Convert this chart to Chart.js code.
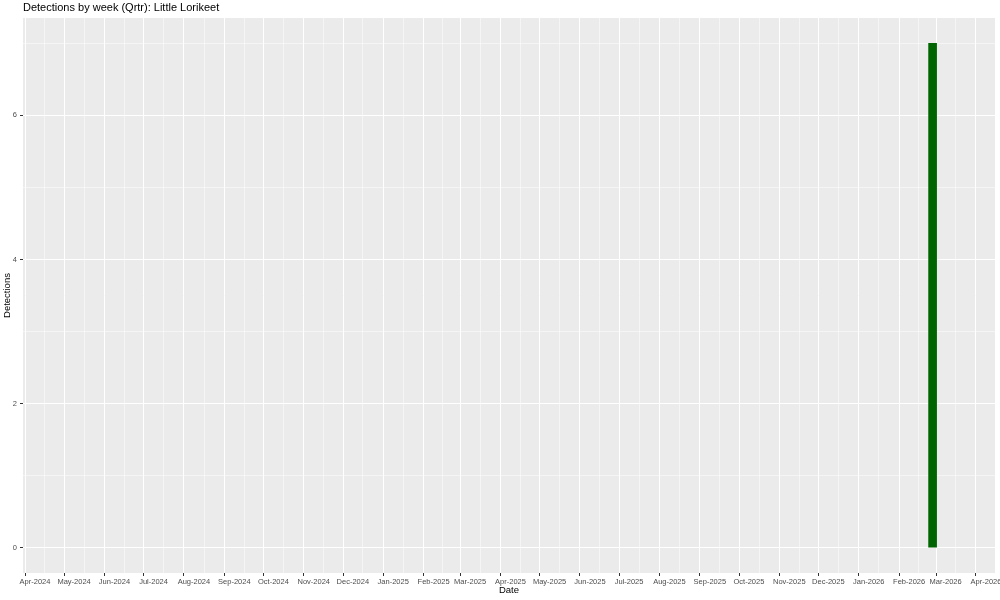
<!DOCTYPE html>
<html>
<head>
<meta charset="utf-8">
<script src="https://cdn.jsdelivr.net/npm/chart.js@4"></script>
<style>
html,body{margin:0;padding:0;background:#fff;}
#wrap{width:1000px;height:600px;position:relative;}
</style>
</head>
<body>
<div id="wrap"><canvas id="c" width="1000" height="600"></canvas></div>
<script>
// ---- data ----
const chartTitle = 'Detections by week (Qrtr): Little Lorikeet';
const weeks = ['2026-02-19'];
const detections = [7];
const monthTicks = ['2024-04-01','2024-05-01','2024-06-01','2024-07-01','2024-08-01','2024-09-01','2024-10-01','2024-11-01','2024-12-01','2025-01-01','2025-02-01','2025-03-01','2025-04-01','2025-05-01','2025-06-01','2025-07-01','2025-08-01','2025-09-01','2025-10-01','2025-11-01','2025-12-01','2026-01-01','2026-02-01','2026-03-01','2026-04-01'];
const monthLabels = ['Apr-2024','May-2024','Jun-2024','Jul-2024','Aug-2024','Sep-2024','Oct-2024','Nov-2024','Dec-2024','Jan-2025','Feb-2025','Mar-2025','Apr-2025','May-2025','Jun-2025','Jul-2025','Aug-2025','Sep-2025','Oct-2025','Nov-2025','Dec-2025','Jan-2026','Feb-2026','Mar-2026','Apr-2026'];
const yTicks = [0,1,2,3,4,5,6,7];
const yLabels = ['0','','2','','4','','6',''];

function toDays(s){const p=s.split('-');return Date.UTC(+p[0],+p[1]-1,+p[2])/864e5;}

const xMajor = monthTicks.map(toDays);
const xTickList = [];
const xLabelMap = {};
const xMinor = new Set();
xMajor.forEach((v,i)=>{
  xTickList.push(v); xLabelMap[v]=monthLabels[i];
  if(i<xMajor.length-1){const m=(v+xMajor[i+1])/2; xTickList.push(m); xLabelMap[m]=''; xMinor.add(m);}
});

const FONT = "'Liberation Sans', Arial, Helvetica, sans-serif";

const bgPlugin = {
  id:'panelBg',
  beforeDraw(chart){
    const a=chart.chartArea, c=chart.ctx;
    c.save(); c.fillStyle='#EBEBEB'; c.fillRect(a.left,a.top,a.right-a.left,a.bottom-a.top); c.restore();
  },
  afterDraw(chart){
    const c=chart.ctx;
    c.save(); c.fillStyle='#000'; c.font='11px '+FONT; c.textBaseline='middle'; c.textAlign='left';
    c.fillText(chartTitle, chart.chartArea.left, 8);
    c.restore();
  }
};

new Chart(document.getElementById('c'), {
  type:'bar',
  data:{
    datasets:[{
      data: weeks.map((w,i)=>({x:toDays(w), y:detections[i]})),
      backgroundColor:'#006400',
      borderWidth:0,
      barThickness:8
    }]
  },
  options:{
    responsive:false,
    animation:false,
    layout:{padding:{left:0,right:5,top:18,bottom:0}},
    plugins:{legend:{display:false},tooltip:{enabled:false},title:{display:false}},
    scales:{
      x:{
        type:'linear',
        min: toDays('2024-04-01')-9.2,
        max: toDays('2026-04-01')+6.9,
        offset:false,
        afterBuildTicks(s){ s.ticks = xTickList.map(v=>({value:v})); },
        afterFit(s){ s.height=27; s.paddingLeft=0; s.paddingRight=0; },
        ticks:{autoSkip:false,maxRotation:0,minRotation:0,padding:1,color:'#4D4D4D',font:{family:FONT,size:7.5},
          callback:(v)=>xLabelMap[v]!==undefined?xLabelMap[v]:''},
        grid:{color:'#FFFFFF',lineWidth:(ctx)=>ctx.tick&&xMinor.has(ctx.tick.value)?0.5:1,
          tickLength:3,tickColor:(ctx)=>ctx.tick&&xMinor.has(ctx.tick.value)?'rgba(0,0,0,0)':'#333333',drawTicks:true},
        border:{display:false},
        title:{display:true,text:'Date',color:'#000',font:{family:FONT,size:9.5},padding:{top:0,bottom:4}}
      },
      y:{
        type:'linear',
        min:-0.35, max:7.35,
        afterBuildTicks(s){ s.ticks = yTicks.map(v=>({value:v})); },
        afterFit(s){ s.width=23; s.paddingTop=0; s.paddingBottom=0; },
        ticks:{padding:3,color:'#4D4D4D',font:{family:FONT,size:7.5},
          callback:(v)=>{const i=yTicks.indexOf(v);return i>=0?yLabels[i]:'';}},
        grid:{color:'#FFFFFF',lineWidth:(ctx)=>ctx.tick&&ctx.tick.value%2===1?0.5:1,
          tickLength:3,tickColor:(ctx)=>ctx.tick&&ctx.tick.value%2===1?'rgba(0,0,0,0)':'#333333',drawTicks:true},
        border:{display:false},
        title:{display:true,text:'Detections',color:'#000',font:{family:FONT,size:9.5},padding:{top:2,bottom:0}}
      }
    }
  },
  plugins:[bgPlugin]
});
</script>
</body>
</html>
